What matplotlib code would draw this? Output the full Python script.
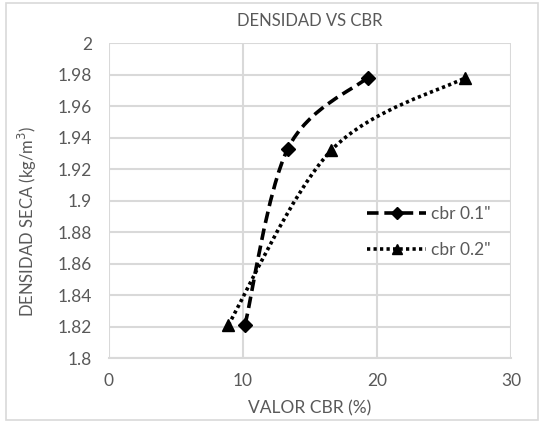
import matplotlib
matplotlib.use("Agg")
import matplotlib.pyplot as plt
import numpy as np
from matplotlib.path import Path
from matplotlib.patches import PathPatch, Rectangle
from matplotlib.lines import Line2D

cbr01_x = [10.15, 13.35, 19.3]
cbr01_y = [1.821, 1.933, 1.978]
cbr02_x = [8.9, 16.6, 26.6]
cbr02_y = [1.821, 1.932, 1.978]
labels = ['cbr 0.1"', 'cbr 0.2"']
xticks = [0, 10, 20, 30]
yticks = [1.8, 1.82, 1.84, 1.86, 1.88, 1.9, 1.92, 1.94, 1.96, 1.98, 2.0]
ytick_labels = ["1.8", "1.82", "1.84", "1.86", "1.88", "1.9", "1.92", "1.94", "1.96", "1.98", "2"]

plt.rcParams['font.family'] = ['Lato', 'DejaVu Sans']
TXT = '#595959'
GRID = '#d9d9d9'

fig = plt.figure(figsize=(5.44, 4.23), dpi=100)
ax = fig.add_axes([109 / 544, 1 - 358 / 423, 402 / 544, 315 / 423])


def smooth_path(xs, ys):
    pts = np.column_stack([xs, ys]).astype(float)
    n = len(pts)
    verts = [pts[0]]
    codes = [Path.MOVETO]
    for i in range(n - 1):
        p0 = pts[i - 1] if i > 0 else pts[i]
        p1 = pts[i]
        p2 = pts[i + 1]
        p3 = pts[i + 2] if i + 2 < n else pts[i + 1]
        c1 = p1 + (p2 - p0) / 6.0
        c2 = p2 - (p3 - p1) / 6.0
        verts += [c1, c2, p2]
        codes += [Path.CURVE4] * 3
    return Path(verts, codes)


DASH = (0, (3.2, 1.6))
DOT = (0, (0.9, 0.9))

ax.add_patch(PathPatch(smooth_path(cbr01_x, cbr01_y), fill=False, ec='black',
                       lw=2.6, ls=DASH, zorder=3))
ax.plot(cbr01_x, cbr01_y, ls='none', marker='D', ms=7, color='black', zorder=4)
ax.add_patch(PathPatch(smooth_path(cbr02_x, cbr02_y), fill=False, ec='black',
                       lw=2.6, ls=DOT, zorder=3))
ax.plot(cbr02_x, cbr02_y, ls='none', marker='^', ms=8, color='black', zorder=4)

ax.set_xlim(0, 30)
ax.set_ylim(1.8, 2.0)
ax.set_xticks(xticks)
ax.set_yticks(yticks)
ax.set_yticklabels(ytick_labels)
ax.tick_params(length=0, labelsize=12.5, colors=TXT)
ax.tick_params(axis='y', pad=12)
ax.tick_params(axis='x', pad=11)
ax.grid(True, color=GRID, lw=1.5)
ax.set_axisbelow(True)
for s in ax.spines.values():
    s.set_visible(False)
ax.spines['bottom'].set_visible(True)
ax.spines['bottom'].set_color(GRID)
ax.spines['bottom'].set_linewidth(1.5)

fig.text(0.5 * (109 + 511) / 544, 1 - 21 / 423, 'DENSIDAD VS CBR', fontsize=12,
         color=TXT, ha='center', va='center')
fig.text(0.5 * (109 + 511) / 544, 1 - 408 / 423, 'VALOR CBR (%)', fontsize=12.5,
         color=TXT, ha='center', va='center')
fig.text(27 / 544, 1 - 221 / 423, 'DENSIDAD SECA (kg/m$^3$)', fontsize=12,
         color=TXT, ha='center', va='center', rotation=90)

h1 = Line2D([], [], color='black', lw=2.6, ls=DASH, marker='D', ms=6)
h2 = Line2D([], [], color='black', lw=2.6, ls=DOT, marker='^', ms=7)
leg = ax.legend([h1, h2], labels, loc='center left',
                bbox_to_anchor=((367 - 109) / 402, (358 - 232) / 315),
                frameon=False, fontsize=12.5, handlelength=3.4, handletextpad=0.3,
                labelspacing=1.2, labelcolor=TXT, borderpad=0, borderaxespad=0)

fig.add_artist(Rectangle((6 / 544, 3 / 423), 532 / 544, 417 / 423, transform=fig.transFigure,
                         fill=False, ec=GRID, lw=1.2))

fig.savefig('out.png', dpi=100, facecolor='white')
